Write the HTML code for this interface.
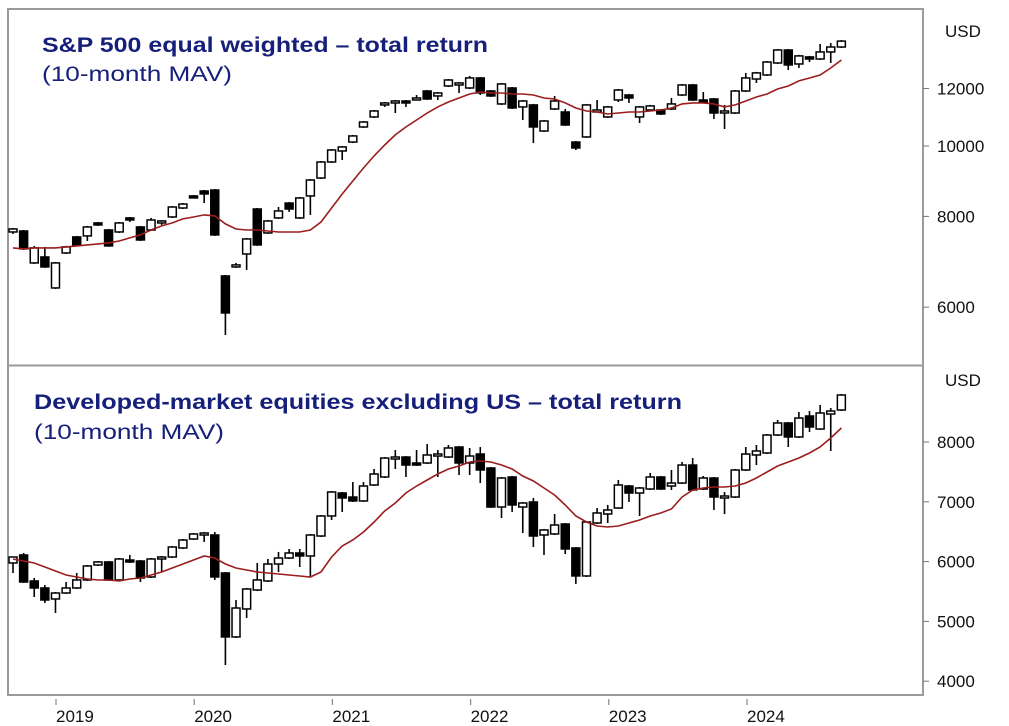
<!DOCTYPE html>
<html><head><meta charset="utf-8"><style>
html,body{margin:0;padding:0;background:#fff;}
svg{display:block;font-family:"Liberation Sans",sans-serif;}
</style></head><body>
<svg id="chart" width="1009" height="726" viewBox="0 0 1009 726" xmlns="http://www.w3.org/2000/svg">
<rect x="0" y="0" width="1009" height="726" fill="#fff"/>
<g id="frame" fill="none" stroke="#9a9a9a" stroke-width="2">
<rect x="8" y="9" width="915" height="686"/>
<line x1="8" y1="365.5" x2="923" y2="365.5"/>
</g>
<text x="42" y="52" font-size="21" font-weight="bold" fill="#16207a" textLength="446" lengthAdjust="spacingAndGlyphs">S&amp;P 500 equal weighted – total return</text>
<text x="42" y="81" font-size="21" fill="#16207a" textLength="190" lengthAdjust="spacingAndGlyphs">(10-month MAV)</text>
<text x="34" y="409" font-size="21" font-weight="bold" fill="#16207a" textLength="648" lengthAdjust="spacingAndGlyphs">Developed-market equities excluding US – total return</text>
<text x="34" y="439" font-size="21" fill="#16207a" textLength="190" lengthAdjust="spacingAndGlyphs">(10-month MAV)</text>
<text x="945" y="37" font-size="17" fill="#111">USD</text>
<text x="945" y="386" font-size="17" fill="#111">USD</text>
<g id="layer"></g>
</svg>
<script>
const topOpen=[7615,7639,6903,7035,6377,7125,7496,7520,7836,7663,7615,7961,7737,7663,7836,7986,8216,8536,8671,8698,6624,6816,7102,8190,7591,7961,8346,7961,8536,9035,9506,9843,10126,10622,10964,11426,11462,11534,11607,11905,11719,12096,12134,12019,12407,11905,11426,12019,11318,11390,10487,11245,11139,10126,10291,11174,10964,11570,11755,10964,11209,11209,11245,11755,12134,11570,11607,11139,11103,11905,12366,12525,13010,13557,12969,13262,13176,13473,13686];
const topClose=[7688,7217,7240,6816,6903,7263,7309,7737,7786,7286,7836,7910,7424,7910,7885,8242,8320,8509,8590,7544,5891,6860,7448,7309,7885,8139,8190,8481,8978,9506,9874,9970,10324,10790,11174,11462,11534,11498,11644,11607,11831,12327,12212,12407,11831,11719,12173,11281,11534,10622,10825,11534,10689,9938,11390,11209,11318,11942,11644,11318,11354,11069,11426,12134,11570,11534,11103,11174,11905,12407,12607,13051,13557,12929,13305,13176,13473,13686,13944];
const topHigh=[7712,7663,7286,7263,6925,7286,7520,7762,7860,7688,7860,7986,7762,7961,7910,8268,8346,8563,8698,8725,6645,6903,7472,8216,7910,8242,8373,8509,9007,9536,9906,10000,10357,10825,11209,11498,11570,11570,11755,11942,11868,12366,12250,12487,12447,11942,12212,12057,11570,11426,10859,11719,11245,10159,11426,11570,11354,11980,11793,11354,11390,11245,11644,12173,12173,11868,11644,11390,11942,12607,12648,13092,13600,13600,13348,13305,13815,13858,13990];
const topLow=[7567,7192,6881,6794,6357,7102,7286,7401,7762,7263,7591,7860,7401,7639,7786,7961,8190,8482,8346,7520,5494,6794,6750,7286,7567,7936,8114,7936,8037,9007,9476,9566,10094,10588,10929,11318,11103,11318,11570,11570,11570,12057,11831,11980,11755,11682,11390,11245,10859,10094,10454,11209,10656,9874,10258,11139,10929,11498,11462,10757,11174,11034,11209,11719,11534,11498,10894,10554,11069,11868,12212,12487,12969,12724,12806,13051,13133,13010,13643];
const topMav=[7240,7217,7240,7240,7240,7263,7286,7309,7332,7355,7401,7472,7544,7663,7762,7836,7936,7986,8037,8012,7811,7688,7663,7663,7639,7615,7615,7615,7663,7860,8216,8590,8950,9327,9690,10032,10357,10622,10859,11103,11318,11498,11644,11793,11868,11831,11831,11793,11793,11755,11644,11607,11462,11281,11174,11139,11069,11103,11139,11139,11174,11209,11281,11426,11462,11462,11426,11318,11390,11534,11682,11793,11980,12096,12290,12407,12525,12806,13133];
const botOpen=[5977,6111,5676,5559,5375,5475,5559,5693,5943,5994,5693,6027,6010,5743,6060,6077,6228,6378,6462,6445,5810,4740,5208,5525,5676,5960,6060,6144,6094,6428,6763,7147,7080,7014,7281,7415,7732,7749,7649,7649,7783,7749,7916,7649,7799,7565,6913,7415,6913,6997,6445,6462,6629,6228,5760,6646,6796,6896,7264,7147,7214,7415,7264,7314,7615,7214,7398,7080,7080,7532,7783,7816,8117,8318,8084,8435,8217,8468,8535];
const botClose=[6077,5659,5559,5358,5475,5559,5693,5927,5994,5693,6044,6010,5726,6044,6077,6244,6361,6462,6478,5743,4740,5224,5542,5693,5960,6060,6144,6094,6445,6763,7164,7064,7014,7264,7465,7732,7749,7615,7615,7783,7799,7900,7649,7766,7532,6913,7398,6947,6980,6428,6529,6612,6211,5760,6662,6813,6863,7281,7147,7231,7415,7214,7314,7615,7197,7398,7080,7097,7532,7799,7850,8117,8318,8084,8401,8251,8485,8518,8786];
const botHigh=[6077,6144,5726,5609,5492,5659,5810,5943,6010,6010,6060,6111,6027,6060,6094,6261,6378,6478,6495,6495,5826,5358,5559,5977,6044,6161,6211,6211,6462,6779,7181,7164,7331,7331,7549,7749,7866,7766,7866,7967,7866,7950,7933,7900,7916,7582,7415,7432,6997,7064,6545,6796,6646,6244,6679,6896,6947,7365,7281,7248,7482,7432,7532,7666,7732,7432,7415,7164,7549,7916,7950,8134,8368,8334,8502,8518,8619,8568,8803];
const botLow=[5810,5642,5408,5308,5141,5459,5542,5676,5927,5676,5676,5977,5659,5726,5826,6060,6211,6361,6328,5693,4271,4723,5057,5508,5659,5826,6044,5910,5743,6412,6696,6830,6997,6997,7264,7398,7549,7415,7599,7632,7415,7732,7448,7448,7314,6896,6729,6830,6478,6244,6111,6445,6127,5626,5743,6629,6646,6880,6997,6763,7197,7197,7197,7298,7181,7197,6863,6796,7064,7515,7615,7799,8100,7916,8067,8167,8201,7850,8518];
const botMav=[6044,6010,5977,5910,5843,5776,5743,5709,5693,5693,5676,5709,5726,5776,5826,5893,5960,6027,6094,6060,5960,5893,5860,5826,5810,5793,5776,5760,5743,5826,6077,6261,6361,6495,6662,6846,6980,7147,7264,7365,7465,7549,7599,7666,7682,7666,7615,7549,7432,7348,7231,7114,6947,6763,6662,6595,6579,6595,6646,6696,6763,6813,6880,7080,7197,7231,7248,7248,7264,7314,7398,7498,7599,7666,7732,7816,7916,8067,8234];
const topTicks=[6000,8000,10000,12000];
const botTicks=[4000,5000,6000,7000,8000];
const yearLabels=["2019","2020","2021","2022","2023","2024"];

const NS="http://www.w3.org/2000/svg";
const layer=document.getElementById('layer');
function xIdx(i){return 13+i*10.62;}
function xYear(k){return 56+k*138.2;}
function yTop(v){return 146-315.5*Math.log(v/10000);}
function yBot(v){return 442+(8000-v)*0.0598;}
function mk(tag,attrs,parent){const e=document.createElementNS(NS,tag);for(const k in attrs)e.setAttribute(k,attrs[k]);(parent||layer).appendChild(e);return e;}

function drawPanel(O,C,H,L,M,ys,prefix){
  const g=mk('g',{});
  
  
  for(let i=0;i<O.length;i++){
    const x=xIdx(i);
    const w=mk('line',{x1:x,x2:x,y1:ys(H[i]),y2:ys(L[i]),stroke:'#000','stroke-width':1.6},g);
    
    
    const up=C[i]>=O[i];
    const yt=Math.min(ys(O[i]),ys(C[i])), yb=Math.max(ys(O[i]),ys(C[i]));
    const h=Math.max(yb-yt,2);
    const b=mk('rect',{x:x-4,y:yt,width:8,height:h,fill:up?'#fff':'#000',stroke:'#000','stroke-width':1.5},g);
    
    
  }
  let d='';
  for(let i=0;i<M.length;i++){d+=(i?'L':'M')+xIdx(i).toFixed(1)+' '+ys(M[i]).toFixed(1);}
  const p=mk('path',{d:d,fill:'none',stroke:'#9b1d1d','stroke-width':1.6});
  
  
}
drawPanel(topOpen,topClose,topHigh,topLow,topMav,yTop,'top');
drawPanel(botOpen,botClose,botHigh,botLow,botMav,yBot,'bottom');

function yAxis(ticks,ys,prefix){
  ticks.forEach(v=>{
    const y=ys(v);
    const t=mk('line',{x1:923,x2:929,y1:y,y2:y,stroke:'#777','stroke-width':1});
    
    
    const l=mk('text',{x:937,y:y+6,'font-size':17,fill:'#111'});
    l.textContent=String(v);
    
    
  });
}
yAxis(topTicks,yTop,'top');
yAxis(botTicks,yBot,'bottom');

yearLabels.forEach((s,k)=>{
  const x=xYear(k);
  const t=mk('line',{x1:x,x2:x,y1:699,y2:705,stroke:'#888','stroke-width':1.2});
  
  
  const l=mk('text',{x:x,y:722,'font-size':17,fill:'#111'});
  l.textContent=s;
  
  
});
</script>
</body></html>
